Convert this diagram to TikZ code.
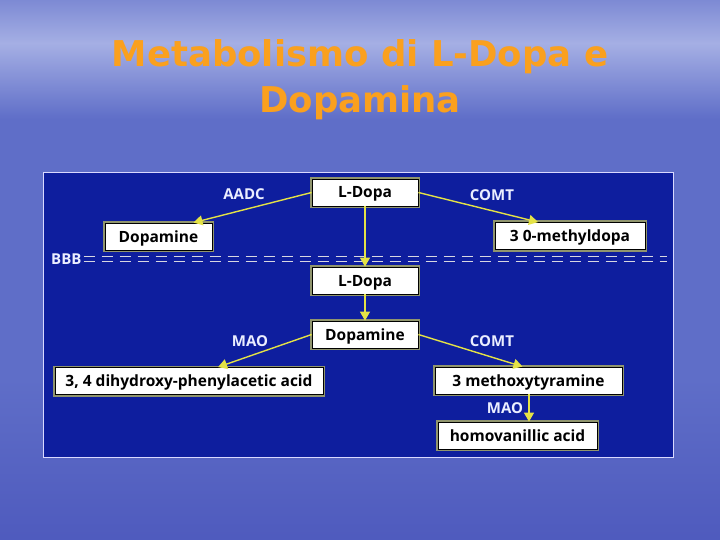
\documentclass[tikz,border=0pt]{standalone}
\usepackage{fontspec}
\setmainfont{DejaVu Sans}
\newfontfamily\boxfont{Open Sans}
\usetikzlibrary{arrows.meta,calc}
\definecolor{bgtop}{RGB}{88,100,196}
\definecolor{bglight}{RGB}{165,175,228}
\definecolor{bgmid}{RGB}{95,110,200}
\definecolor{bgbot}{RGB}{52,58,172}
\definecolor{panel}{RGB}{14,30,158}
\definecolor{titleorange}{RGB}{250,160,30}
\definecolor{arrowyellow}{RGB}{228,226,70}
\definecolor{glow}{RGB}{200,200,90}
\definecolor{labelwhite}{RGB}{235,238,255}
\definecolor{bbbgray}{RGB}{215,215,225}
\pgfdeclareverticalshading{skybg}{100bp}{color(0bp)=(bgbot); color(40bp)=(bgmid); color(64bp)=(bgmid); color(71bp)=(bglight); color(78bp)=(bgmid); color(90bp)=(bgtop); color(96bp)=(bgmid); color(100bp)=(bgtop)}
\tikzset{
  box/.style={draw=black, line width=0.8pt, fill=white, minimum height=27pt, inner sep=2pt,
    text height=11pt, text depth=0pt,
    font=\boxfont\bfseries\fontsize{15.5}{18}\selectfont, text=black,
    preaction={draw=glow, line width=4pt, opacity=0.7}},
  enzyme/.style={font=\boxfont\bfseries\fontsize{15}{18}\selectfont, text=labelwhite, inner sep=0pt,
    text height=11pt, text depth=0pt},
  conn/.style={draw=arrowyellow, line width=1.4pt, -{Triangle[width=10pt,length=9pt]}},
  titletext/.style={font=\bfseries\fontsize{35.5}{46}\selectfont, text=titleorange, inner sep=0pt}
}
\begin{document}
\begin{tikzpicture}[x=1pt,y=-1pt]
\useasboundingbox (0,0) rectangle (720,540);
\shade[shading=skybg] (0,0) rectangle (720,540);

% title
\node[titletext, anchor=base] (t1) at (360,67) {Metabolismo di L-Dopa e};
\node[titletext, anchor=base] (t2) at (360,113) {Dopamina};

% panel
\fill[panel, draw=white!85!blue, line width=1pt] (43,173) rectangle (673,457);

% BBB barrier
\node[enzyme, anchor=west] (bbb) at (51,259) {BBB};
\coordinate (bbbend) at (667,259);
\draw[bbbgray, line width=1.6pt, dash pattern=on 11pt off 7pt]
  ([xshift=2pt,yshift=-2.5pt]bbb.east) -- ([yshift=-2.5pt]bbbend);
\draw[bbbgray, line width=1.6pt, dash pattern=on 11pt off 7pt]
  ([xshift=2pt,yshift=2.5pt]bbb.east) -- ([yshift=2.5pt]bbbend);

% boxes
\node[box, minimum width=106pt] (lt) at (365,192.5) {L-Dopa};
\node[box, minimum width=107pt] (dl) at (158.5,236.5) {Dopamine};
\node[box, minimum width=150pt] (om) at (570,236) {3 0-methyldopa};
\node[box, minimum width=106pt] (l2) at (365,280.5) {L-Dopa};
\node[box, minimum width=106pt] (dm) at (365,334.5) {Dopamine};
\node[box, minimum width=268pt] (dh) at (189,381) {3, 4 dihydroxy-phenylacetic acid};
\node[box, minimum width=187pt] (mt) at (528.5,380.5) {3 methoxytyramine};
\node[box, minimum width=159pt] (hv) at (517.5,435.5) {homovanillic acid};

% connectors
\draw[conn] (lt.west) -- ([xshift=35pt]dl.north);
\draw[conn] (lt.east) -- ([xshift=-32pt]om.north);
\draw[conn] (lt.south) -- (l2.north);
\draw[conn] (l2.south) -- (dm.north);
\draw[conn] (dm.west) -- ([xshift=29pt]dh.north);
\draw[conn] (dm.east) -- ([xshift=-6pt]mt.north);
\draw[conn] ([xshift=0.5pt]mt.south) -- ([xshift=11.5pt]hv.north);

% enzyme labels
\node[enzyme] (aadc) at (244,194) {AADC};
\node[enzyme] (comt1) at (492,195) {COMT};
\node[enzyme] (mao1) at (250,341) {MAO};
\node[enzyme] (comt2) at (492,341) {COMT};
\node[enzyme] (mao2) at (505,408) {MAO};
\end{tikzpicture}
\end{document}
